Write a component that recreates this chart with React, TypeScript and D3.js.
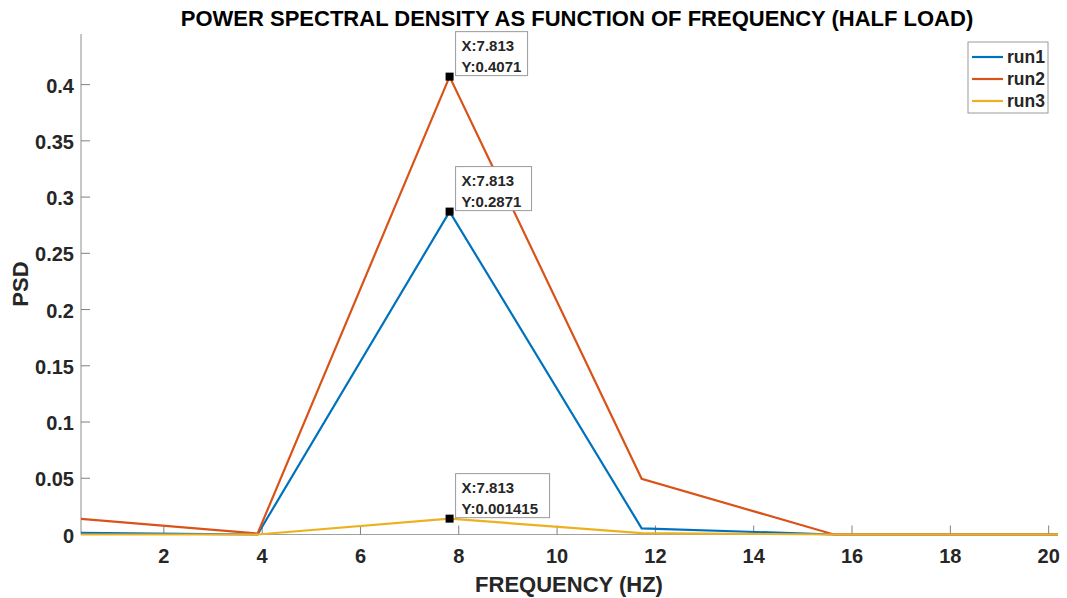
import React from "react";
import * as d3 from "d3";

const freqs = [0, 3.906, 7.813, 11.72, 15.63, 19.53, 23.44];
const run1 = [0.0015, 0.0, 0.2871, 0.0055, 0.0, 0.0, 0.0];
const run2 = [0.015, 0.0008, 0.4071, 0.0495, 0.0, 0.0, 0.0];
const run3 = [0.0, 0.0, 0.0141, 0.0012, 0.0, 0.0, 0.0];
const seriesNames = ["run1", "run2", "run3"];
const seriesColors = ["#0072BD", "#D95319", "#EDB120"];
const xTicks = [2, 4, 6, 8, 10, 12, 14, 16, 18, 20];
const yTicks = [0, 0.05, 0.1, 0.15, 0.2, 0.25, 0.3, 0.35, 0.4];
const tipSeries = [1, 0, 2];
const tipIndex = [2, 2, 2];
const tipX = ["X:7.813", "X:7.813", "X:7.813"];
const tipY = ["Y:0.4071", "Y:0.2871", "Y:0.001415"];
const tipW = [72, 76, 94];

export default function App() {
  const W = 1067, H = 598;
  const left = 81, right = 1058, top = 34, bottom = 534.5;
  const x = d3.scaleLinear().domain([0.315, 20.19]).range([left, right]);
  const y = d3.scaleLinear().domain([0, 0.445]).range([bottom, top]);
  const all = [run1, run2, run3];
  const line = d3.line<number>().x((_, i) => x(freqs[i])).y((d) => y(d));
  const font = "'Liberation Sans', Arial, sans-serif";
  const tc = "#262626";
  return (
    <svg width={W} height={H} style={{ position: "absolute", left: 0, top: 0, background: "#fff" }} fontFamily={font}>
      <defs>
        <clipPath id="plot">
          <rect x={left} y={top} width={right - left} height={bottom - top + 2} />
        </clipPath>
      </defs>
      <text x={577} y={26} textAnchor="middle" fontWeight="bold" fontSize={22} fill="#000">
        POWER SPECTRAL DENSITY AS FUNCTION OF FREQUENCY (HALF LOAD)
      </text>
      {/* axes */}
      <line x1={left} x2={left} y1={top} y2={bottom} stroke="#A0A0A0" strokeWidth={1.2} />
      <line x1={left} x2={right} y1={bottom} y2={bottom} stroke="#A0A0A0" strokeWidth={1.2} />
      {yTicks.map((t) => (
        <g key={"y" + t}>
          <line x1={left} x2={left + 9} y1={y(t)} y2={y(t)} stroke="#808080" strokeWidth={1} />
          <text x={left - 7} y={y(t) + 8} textAnchor="end" fontWeight="bold" fontSize={20} fill={tc}>
            {t === 0 ? "0" : String(t)}
          </text>
        </g>
      ))}
      {xTicks.map((t) => (
        <g key={"x" + t}>
          <line x1={x(t)} x2={x(t)} y1={bottom} y2={bottom - 9} stroke="#808080" strokeWidth={1} />
          <text x={x(t)} y={bottom + 28} textAnchor="middle" fontWeight="bold" fontSize={20} fill={tc}>
            {t}
          </text>
        </g>
      ))}
      <text x={569} y={592} textAnchor="middle" fontWeight="bold" fontSize={22} fill={tc}>
        FREQUENCY (HZ)
      </text>
      <text transform={`translate(28,284) rotate(-90)`} textAnchor="middle" fontWeight="bold" fontSize={22} fill={tc}>
        PSD
      </text>
      <g clipPath="url(#plot)">
        {all.map((s, i) => (
          <path key={i} d={line(s) || ""} fill="none" stroke={seriesColors[i]} strokeWidth={2.2} />
        ))}
      </g>
      {/* data tips */}
      {tipSeries.map((si, k) => {
        const px = x(freqs[tipIndex[k]]);
        const py = y(all[si][tipIndex[k]]);
        const bx = px + 6, by = py - 45;
        return (
          <g key={"tip" + k}>
            <rect x={px - 4} y={py - 4} width={8} height={8} fill="#000" />
            <rect x={bx} y={by} width={tipW[k]} height={44} fill="#fff" stroke="#9a9a9a" strokeWidth={1} />
            <text x={bx + 6} y={by + 19} fontWeight="bold" fontSize={15} fill={tc}>{tipX[k]}</text>
            <text x={bx + 6} y={by + 40} fontWeight="bold" fontSize={15} fill={tc}>{tipY[k]}</text>
          </g>
        );
      })}
      {/* legend */}
      <rect x={968} y={42} width={80} height={71} fill="#fff" stroke="#9a9a9a" strokeWidth={1} />
      {seriesNames.map((n, i) => (
        <g key={n}>
          <line x1={972} x2={1003} y1={57 + i * 22} y2={57 + i * 22} stroke={seriesColors[i]} strokeWidth={2.2} />
          <text x={1007} y={63 + i * 22} fontWeight="bold" fontSize={17.5} fill={tc}>{n}</text>
        </g>
      ))}
    </svg>
  );
}
